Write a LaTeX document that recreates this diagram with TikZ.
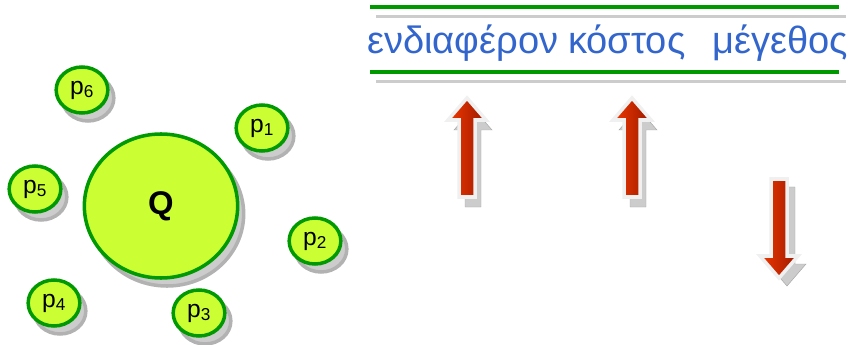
\documentclass[tikz,border=0pt]{standalone}
\usepackage{fontspec}
\setmainfont{Liberation Sans}
\usetikzlibrary{shapes.geometric,shadows}
\definecolor{ringgreen}{RGB}{0,153,0}
\definecolor{limefill}{RGB}{204,255,51}
\definecolor{wordblue}{RGB}{51,102,204}
\definecolor{arrowlight}{RGB}{240,55,0}
\definecolor{arrowdark}{RGB}{155,25,0}

\tikzset{
  pics/blockarr/.style 2 args={code={
    \fill[fill=gray!40,draw=gray!70,shift={(#1,#2)}] (-8,99) -- (-8,22) -- (-19,22) -- (0,0) -- (19,22) -- (8,22) -- (8,99) -- cycle;
    \shade[left color=arrowlight,right color=arrowdark,draw=gray!12,line width=3pt] (-8,99) -- (-8,22) -- (-19,22) -- (0,0) -- (19,22) -- (8,22) -- (8,99) -- cycle;
  }}
}

\begin{document}
\begin{tikzpicture}[x=0.03cm,y=-0.03cm,
  peer/.style={ellipse,draw=ringgreen,fill=limefill,line width=3pt,minimum width=1.55cm,minimum height=1.38cm,inner sep=0pt,font=\fontsize{21}{21}\selectfont,drop shadow={shadow xshift=0.18cm,shadow yshift=-0.24cm,fill=gray!40,draw=gray!60,opacity=1}},
  query/.style={peer,minimum width=4.6cm,minimum height=4.32cm,font=\fontsize{28}{28}\selectfont\bfseries},
  word/.style={anchor=base west,text=wordblue,inner sep=0pt,font=\fontsize{32.5}{36}\selectfont},
  rule/.style={ringgreen,line width=3.2pt},
  strip/.style={fill=gray!40}]
	\useasboundingbox (0,0) rectangle (851,345);
	
	\node[query] (q) at (161,206) {Q};
	\node[peer] (p1) at (262,128) {p\textsubscript{1}};
	\node[peer] (p2) at (315,241) {p\textsubscript{2}};
	\node[peer] (p3) at (199,313) {p\textsubscript{3}};
	\node[peer] (p4) at (54,303) {p\textsubscript{4}};
	\node[peer] (p5) at (35,189) {p\textsubscript{5}};
	\node[peer] (p6) at (82,90) {p\textsubscript{6}};
	
	% header band
	\coordinate (topl) at (370,7);
	\coordinate (topr) at (839,7);
	\coordinate (botl) at (370,72);
	\coordinate (botr) at (839,72);
	\fill[strip] (376,15) rectangle (846,18);
	\fill[strip] (376,80) rectangle (846,83);
	\draw[rule] (topl) -- (topr);
	\draw[rule] (botl) -- (botr);
	
	\node[word] (interest) at (367,54) {ενδιαφέρον};
	\node[word] (cost) at (568,54) {κόστος};
	\node[word] (size) at (712,54) {μέγεθος};
	
	\pic at (467,98) {blockarr={6}{10}};
	\pic at (632,98) {blockarr={6}{10}};
	\pic[rotate=180] at (779,278) {blockarr={-8}{-8}};
	
\end{tikzpicture}
\end{document}
